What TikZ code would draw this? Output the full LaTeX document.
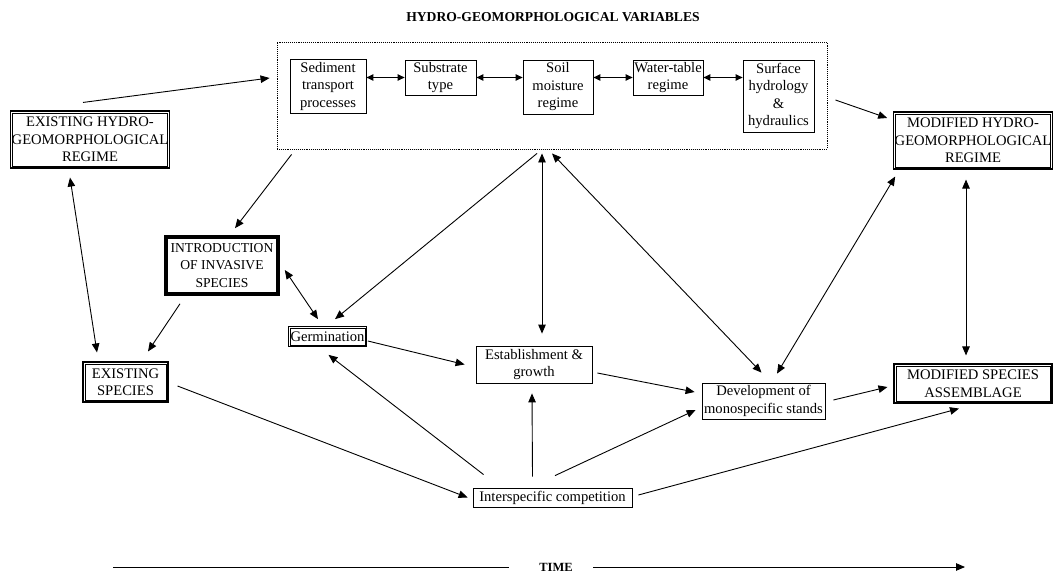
\documentclass[tikz,border=0pt]{standalone}
\usepackage{fontspec}
\setmainfont{Liberation Serif}
\usetikzlibrary{arrows.meta,calc}

\begin{document}
\begin{tikzpicture}[x=1pt,y=-1pt,
  >={Triangle[length=9pt,width=7.5pt]},
  box/.style={draw,line width=0.8pt,align=center,inner sep=1pt,
    font=\fontsize{14.6}{17.5}\selectfont},
  dbox/.style={box,line width=1.1pt},
  inner/.style={line width=0.6pt},
  link/.style={line width=0.9pt},
  harr/.style={link,<->,>={Triangle[length=7pt,width=6.5pt]}}
]
  \path[use as bounding box,fill=white] (0,0) rectangle (1054,575);
  \node[font=\fontsize{13.6}{15}\selectfont\bfseries] (ttl) at (553,17) {HYDRO-GEOMORPHOLOGICAL VARIABLES};
  \node[draw,densely dotted,line width=0.9pt,inner sep=0pt,
    minimum width=550,minimum height=107] (var) at (552,95.5) {};
  \node[box,minimum width=76,minimum height=54] (sed) at (328,86) {Sediment\\transport\\processes};
  \node[box,minimum width=71,minimum height=35] (sub) at (440.5,77.5) {Substrate\\type};
  \node[box,minimum width=70,minimum height=54] (soil) at (558,87) {Soil\\moisture\\regime};
  \node[box,minimum width=70,minimum height=35] (wt) at (668,77.5) {Water-table\\regime};
  \node[box,minimum width=71,minimum height=72] (surf) at (778.5,96) {Surface\\hydrology\\\&\\hydraulics};

  \node[dbox,minimum width=158,minimum height=57] (ehr) at (90,139.5) {EXISTING HYDRO-\\GEOMORPHOLOGICAL\\REGIME};
  \node[dbox,minimum width=158,minimum height=57] (mhr) at (973,140.5) {MODIFIED HYDRO-\\GEOMORPHOLOGICAL\\REGIME};
  \node[box,line width=3.6pt,minimum width=112,minimum height=57,
    font=\fontsize{13.6}{17.5}\selectfont] (intro) at (222,265.5) {INTRODUCTION\\OF INVASIVE\\SPECIES};
  \node[dbox,minimum width=85,minimum height=40] (es) at (125.5,382) {EXISTING\\SPECIES};
  \node[box,line width=0.7pt,minimum width=78,minimum height=20] (germ) at (327.5,336.5) {Germination};
  \node[box,minimum width=116,minimum height=37] (est) at (534,364.5) {Establishment \&\\growth};
  \node[box,minimum width=123,minimum height=36] (dev) at (763.5,401) {Development of\\monospecific stands};
  \node[dbox,minimum width=158,minimum height=39] (msa) at (973,383.5) {MODIFIED SPECIES\\ASSEMBLAGE};
  \node[box,minimum width=159,minimum height=19] (comp) at (552.5,497.5) {Interspecific competition};

  % second frame of the double boxes
  \foreach \n in {ehr,mhr,es,msa}
    \draw[inner] ($(\n.north west)+(2.6,2.6)$) rectangle ($(\n.south east)+(-2.6,-2.6)$);
  \draw[line width=0.4pt] ($(germ.north west)+(1.6,1.6)$) rectangle ($(germ.south east)+(-1.6,-1.6)$);

  \node[font=\fontsize{12.5}{15}\selectfont\bfseries] (time) at (556,567) {TIME};
  \coordinate (t0) at (113,567);
  \coordinate (t1) at (965,567);

  \draw[harr] (sed.east |- sub.west) -- (sub.west);
  \draw[harr] (sub.east) -- (soil.west |- sub.east);
  \draw[harr] (soil.east |- wt.west) -- (wt.west);
  \draw[harr] (wt.east) -- (surf.west |- wt.east);

  \draw[->,link] ($(ehr.north)+(-7,-8)$) -- ($(var.west)+(-7,-17.5)$);
  \draw[->,link] ($(var.east)+(8,4.5)$) -- ($(mhr.west)+(-6,-22.5)$);
  \draw[->,link] ($(var.south west)+(15,5)$) -- ($(intro.north)+(13,-7)$);
  \draw[<->,link] ($(ehr.south)+(-20,9)$) -- ($(es.north)+(-28.5,-9)$);
  \draw[->,link] ($(intro.south)+(-42,8)$) -- ($(es.north)+(22.5,-10)$);
  \draw[<->,link] ($(intro.east)+(5,4.5)$) -- ($(germ.north)+(-9.5,-7)$);
  \draw[->,link] ($(var.south)+(-15,4)$) -- ($(germ.north)+(7.5,-7)$);
  \draw[<->,link] ($(var.south)+(-10,4)$) -- ($(est.north)+(8,-12)$);
  \draw[<->,link] ($(var.south)+(0,4)$) -- ($(dev.north)+(-2,-10)$);
  \draw[<->,link] ($(mhr.south west)+(2,7)$) -- ($(dev.north)+(13.5,-9)$);
  \draw[<->,link] ($(mhr.south)+(-7,10)$) -- ($(msa.north)+(-7,-8)$);
  \draw[->,link] ($(germ.east)+(1,4.5)$) -- ($(est.west)+(-11,0)$);
  \draw[->,link] ($(est.east)+(5,8.5)$) -- ($(dev.west)+(-7,-9)$);
  \draw[->,link] ($(dev.east)+(8,-1)$) -- ($(msa.west)+(-6,3.5)$);
  \draw[->,link] ($(es.east)+(9,4)$) -- ($(comp.west)+(-5,0)$);
  \draw[->,link] ($(comp.north west)+(11,-13)$) -- ($(germ.south)+(1,8)$);
  \draw[->,link] ($(comp.north)+(-20,-11)$) -- ($(est.south)+(-2,10)$);
  \draw[->,link] ($(comp.north)+(2.5,-12)$) -- ($(dev.west)+(-6,9)$);
  \draw[->,link] ($(comp.east)+(6,-2.5)$) -- ($(msa.south)+(-14,5)$);

  \draw[link,shorten >=27pt] (t0) -- (time.west);
  \draw[->,link,shorten <=17pt] (time.east) -- (t1);
\end{tikzpicture}
\end{document}
